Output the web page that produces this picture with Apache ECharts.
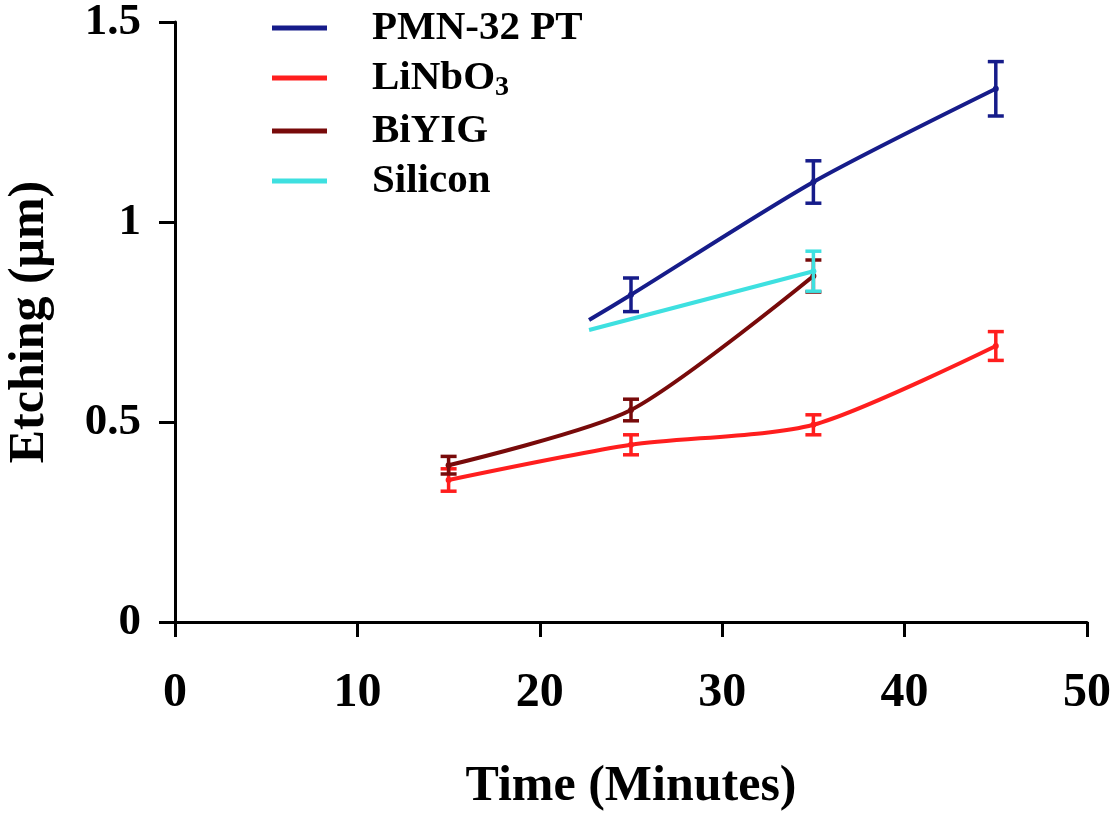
<!DOCTYPE html>
<html>
<head>
<meta charset="utf-8">
<script src="https://cdn.jsdelivr.net/npm/echarts@6/dist/echarts.min.js"></script>
<style>
  html, body { margin: 0; padding: 0; background: #fff; }
  #chart { width: 1117px; height: 817px; }
</style>
</head>
<body>
<div id="chart"></div>
<script>
// ---- Data ----
const seriesNames = ['PMN-32 PT', 'LiNbO3', 'BiYIG', 'Silicon'];

const pmnTime = [22.7, 25, 35, 45];
const pmnEtch = [0.755, 0.818, 1.10, 1.333];
const pmnErr  = [null, 0.042, 0.053, 0.068];

const linbTime = [15, 25, 35, 45];
const linbEtch = [0.355, 0.443, 0.493, 0.69];
const linbErr  = [0.028, 0.025, 0.025, 0.036];

const biyigTime = [15, 25, 35];
const biyigEtch = [0.392, 0.53, 0.865];
const biyigErr  = [0.022, 0.027, 0.04];

const siTime = [22.7, 35];
const siEtch = [0.73, 0.877];
const siErr  = [null, 0.05];

const xTicks = [0, 10, 20, 30, 40, 50];
const yTicks = [0, 0.5, 1, 1.5];

// ---- Styling ----
const colors = ['#161c8a', '#ff1e1e', '#780a0a', '#3ee0e0'];
const FONT = '"Liberation Serif", "Times New Roman", serif';

function lineData(t, v, e) {
  return t.map((x, i) => ({
    value: [x, v[i]],
    symbol: e[i] == null ? 'none' : 'circle'
  }));
}
function errData(t, v, e) {
  const out = [];
  t.forEach((x, i) => { if (e[i] != null) out.push([x, v[i], e[i]]); });
  return out;
}
function errRender(color) {
  return function (params, api) {
    const x = api.value(0), y = api.value(1), e = api.value(2);
    const top = api.coord([x, y + e]);
    const bot = api.coord([x, y - e]);
    const w = 8;
    const st = { stroke: color, lineWidth: 3.5 };
    return {
      type: 'group',
      children: [
        { type: 'line', shape: { x1: top[0], y1: top[1], x2: bot[0], y2: bot[1] }, style: st },
        { type: 'line', shape: { x1: top[0] - w, y1: top[1], x2: top[0] + w, y2: top[1] }, style: st },
        { type: 'line', shape: { x1: bot[0] - w, y1: bot[1], x2: bot[0] + w, y2: bot[1] }, style: st }
      ]
    };
  };
}

const sets = [
  [pmnTime, pmnEtch, pmnErr],
  [linbTime, linbEtch, linbErr],
  [biyigTime, biyigEtch, biyigErr],
  [siTime, siEtch, siErr]
];

const series = [];
sets.forEach((s, i) => {
  series.push({
    name: seriesNames[i],
    type: 'line',
    data: lineData(s[0], s[1], s[2]),
    smooth: 0.25,
    symbolSize: 6,
    lineStyle: { color: colors[i], width: 4 },
    itemStyle: { color: colors[i] },
    z: 2 + i
  });
  series.push({
    name: seriesNames[i] + ' error',
    type: 'custom',
    data: errData(s[0], s[1], s[2]),
    encode: { x: 0, y: 1 },
    renderItem: errRender(colors[i]),
    z: 3 + i
  });
});

const axisTextX = { fontFamily: FONT, fontWeight: 'bold', fontSize: 48, color: '#000' };
const axisTextY = { fontFamily: FONT, fontWeight: 'bold', fontSize: 45, color: '#000' };

const option = {
  animation: false,
  backgroundColor: '#ffffff',
  grid: { left: 175, right: 30, top: 22, bottom: 195, containLabel: false, outerBoundsMode: 'none' },
  legend: {
    data: seriesNames,
    orient: 'vertical',
    left: 267,
    top: 2,
    icon: 'rect',
    itemWidth: 55,
    itemHeight: 5,
    itemGap: 8,
    formatter: n => n === 'LiNbO3' ? 'LiNbO{sub|3}' : n,
    textStyle: {
      fontFamily: FONT, fontWeight: 'bold', fontSize: 41, color: '#000',
      lineHeight: 42,
      padding: [0, 0, 0, 40],
      rich: {
        sub: { fontFamily: FONT, fontWeight: 'bold', fontSize: 28, color: '#000', padding: [20, 0, 0, 0] }
      }
    }
  },
  xAxis: {
    type: 'value',
    min: xTicks[0],
    max: xTicks[xTicks.length - 1],
    interval: 10,
    name: 'Time (Minutes)',
    nameLocation: 'middle',
    nameGap: 140,
    nameTextStyle: { fontFamily: FONT, fontWeight: 'bold', fontSize: 50, color: '#000' },
    axisLine: { onZero: false, lineStyle: { color: '#000', width: 3 } },
    axisTick: { show: true, inside: false, length: 15, lineStyle: { color: '#000', width: 3 } },
    axisLabel: Object.assign({ margin: 48 }, axisTextX),
    splitLine: { show: false }
  },
  yAxis: {
    type: 'value',
    min: yTicks[0],
    max: yTicks[yTicks.length - 1],
    interval: 0.5,
    name: 'Etching (μm)',
    nameLocation: 'middle',
    nameGap: 120,
    nameRotate: 90,
    nameTextStyle: { fontFamily: FONT, fontWeight: 'bold', fontSize: 50, color: '#000' },
    axisLine: { show: true, onZero: false, lineStyle: { color: '#000', width: 3 } },
    axisTick: { show: true, inside: false, length: 16, lineStyle: { color: '#000', width: 3 } },
    axisLabel: Object.assign({ margin: 34 }, axisTextY),
    splitLine: { show: false }
  },
  series: series
};

const chart = echarts.init(document.getElementById('chart'), null, { renderer: 'canvas' });
chart.setOption(option);
</script>
</body>
</html>
